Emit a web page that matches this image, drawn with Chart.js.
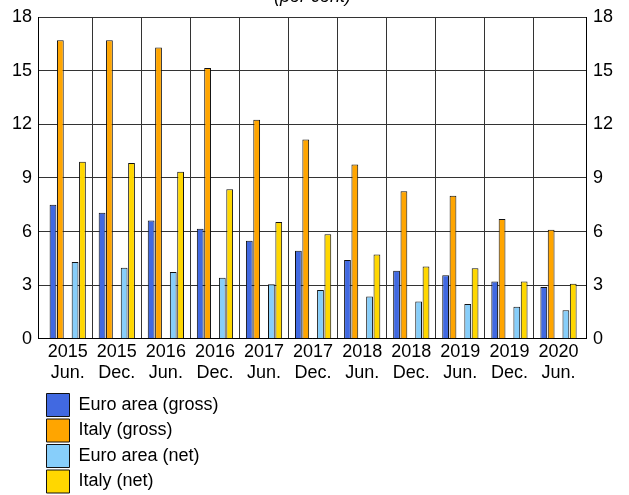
<!DOCTYPE html>
<html>
<head>
<meta charset="utf-8">
<script src="https://cdn.jsdelivr.net/npm/chart.js@4/dist/chart.umd.min.js"></script>
<style>
  html, body { margin: 0; padding: 0; background: #fff; }
  canvas { display: block; }
</style>
</head>
<body>
<canvas id="c" width="629" height="495"></canvas>
<script>
// ---- data ----
const years  = ['2015','2015','2016','2016','2017','2017','2018','2018','2019','2019','2020'];
const months = ['Jun.','Dec.','Jun.','Dec.','Jun.','Dec.','Jun.','Dec.','Jun.','Dec.','Jun.'];
const euroGross  = [7.5, 7.05, 6.62, 6.15, 5.48, 4.92, 4.41, 3.80, 3.55, 3.20, 2.90];
const italyGross = [16.7, 16.7, 16.3, 15.15, 12.25, 11.15, 9.75, 8.25, 8.0, 6.7, 6.1];
const euroNet    = [4.3, 3.98, 3.74, 3.42, 3.05, 2.73, 2.36, 2.09, 1.94, 1.79, 1.59];
const italyNet   = [9.9, 9.83, 9.35, 8.36, 6.54, 5.85, 4.71, 4.04, 3.94, 3.20, 3.08];
const seriesNames = ['Euro area (gross)', 'Italy (gross)', 'Euro area (net)', 'Italy (net)'];
const yTicks = [0, 3, 6, 9, 12, 15, 18];
const titleText = '(per cent)';

// ---- styling ----
const FONT = 'Liberation Sans, Arial, sans-serif';
const GRID = '#333';
const LEGEND_DX = 38;
const LEGEND_DY = 5;

const idx = years.map((_, i) => i);

const stackLegend = {
  id: 'stackLegend',
  beforeLayout(chart) {
    const lg = chart.legend;
    if (!lg || lg.__stacked) return;
    lg.__stacked = true;
    const fitRows = lg._fitRows;
    const draw = lg._draw;
    lg._fitRows = function (...args) {
      const mw = this.maxWidth; this.maxWidth = 1;
      const h = fitRows.apply(this, args);
      this.maxWidth = mw; return h;
    };
    lg._draw = function (...args) {
      const l = this.left, r = this.right, t = this.top;
      this.left = l + LEGEND_DX; this.right = this.left + 1; this.top = t + LEGEND_DY;
      draw.apply(this, args);
      this.left = l; this.right = r; this.top = t;
    };
  }
};

const mk = (label, data, color) => ({
  label, data, backgroundColor: color, borderColor: '#111', borderWidth: 1,
  categoryPercentage: 0.75, barPercentage: 0.92
});

new Chart(document.getElementById('c'), {
  type: 'bar',
  data: {
    labels: idx,
    datasets: [
      mk(seriesNames[0], euroGross, '#4169E1'),
      mk(seriesNames[1], italyGross, '#FFA500'),
      mk('', [], 'transparent'),
      mk(seriesNames[2], euroNet, '#87CEFA'),
      mk(seriesNames[3], italyNet, '#FFD700')
    ]
  },
  plugins: [stackLegend],
  options: {
    responsive: false,
    devicePixelRatio: 1,
    animation: false,
    layout: { padding: { left: 6, right: 10, top: 0, bottom: -3 } },
    plugins: {
      title: {
        display: true, text: titleText, color: '#000',
        font: { family: FONT, size: 18, style: 'italic', weight: 'normal', lineHeight: 1.2 },
        padding: { top: -14, bottom: 9.4 }
      },
      legend: {
        display: true, position: 'bottom', align: 'start',
        labels: {
          color: '#000', boxWidth: 23, boxHeight: 23, padding: 2.5,
          font: { family: FONT, size: 18 },
          filter: (item) => item.text !== ''
        }
      },
      tooltip: { enabled: false }
    },
    scales: {
      x: {
        type: 'linear', min: -0.605, max: 10.58, offset: false,
        afterBuildTicks: (s) => { s.ticks = idx.map(v => ({ value: v })); },
        ticks: {
          autoSkip: false, maxRotation: 0, minRotation: 0, padding: 2, color: '#000',
          font: { family: FONT, size: 18, lineHeight: 1.2 },
          callback: (v, i) => [years[i], months[i]]
        },
        grid: {
          offset: true, drawTicks: false, lineWidth: 1,
          color: (c) => (c.index === undefined || c.index === 0) ? 'rgba(0,0,0,0)' : GRID
        },
        border: { display: true, color: '#000', width: 1 }
      },
      y: {
        position: 'left', min: 0, max: 18,
        afterBuildTicks: (s) => { s.ticks = yTicks.map(v => ({ value: v })); },
        ticks: { padding: 6, color: '#000', font: { family: FONT, size: 18 } },
        grid: { color: GRID, drawTicks: false, lineWidth: 1 },
        border: { display: true, color: '#000', width: 1 }
      },
      y2: {
        position: 'right', min: 0, max: 18,
        afterBuildTicks: (s) => { s.ticks = yTicks.map(v => ({ value: v })); },
        ticks: { padding: 6, color: '#000', font: { family: FONT, size: 18 } },
        grid: { drawOnChartArea: false, drawTicks: false },
        border: { display: true, color: '#000', width: 1 }
      }
    }
  }
});
</script>
</body>
</html>
